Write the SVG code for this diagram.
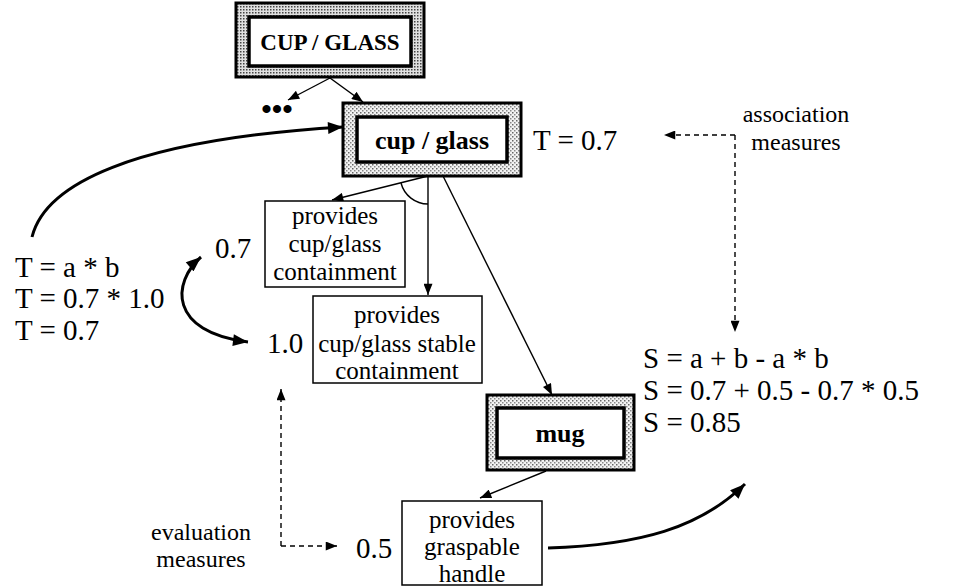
<svg xmlns="http://www.w3.org/2000/svg" width="957" height="587" viewBox="0 0 957 587">
  <style>
    text { font-family: "Liberation Serif", "DejaVu Serif", serif; fill: #000; }
    .node { font-size: 25px; text-anchor: middle; }
    .cat { font-weight: bold; text-anchor: middle; }
    .eq { font-size: 29px; }
    .note { font-size: 24px; text-anchor: middle; }
    .box { fill: #fff; stroke: #000; stroke-width: 1.5; }
    .frame { stroke: #000; stroke-width: 3; }
    .inner { fill: #fff; stroke: #000; stroke-width: 3.5; }
    .thin { fill: none; stroke: #000; stroke-width: 1.4; }
    .thick { fill: none; stroke: #000; stroke-width: 3; }
    .dash { fill: none; stroke: #000; stroke-width: 1.4; stroke-dasharray: 5 4; }
  </style>
  <defs>
    <pattern id="dense" width="3" height="3" patternUnits="userSpaceOnUse">
      <rect width="3" height="3" fill="#e0e0e0"/>
      <rect width="1.5" height="1.5" fill="#444"/>
    </pattern>
    <pattern id="sparse" width="4" height="4" patternUnits="userSpaceOnUse">
      <rect width="4" height="4" fill="#f2f2f2"/>
      <rect width="1.5" height="1.5" fill="#666"/>
      <rect x="2" y="2" width="1.5" height="1.5" fill="#888"/>
    </pattern>
    <marker id="ah" viewBox="0 0 10 8" refX="10" refY="4" markerWidth="12" markerHeight="9" markerUnits="userSpaceOnUse" orient="auto-start-reverse">
      <path d="M0,0 L10,4 L0,8 Z" fill="#000"/>
    </marker>
    <marker id="ahb" viewBox="0 0 10 8" refX="10" refY="4" markerWidth="16" markerHeight="12" markerUnits="userSpaceOnUse" orient="auto-start-reverse">
      <path d="M0,0 L10,4 L0,8 Z" fill="#000"/>
    </marker>
  </defs>

  <!-- connectors -->
  <g id="connectors">
    <path class="thin" d="M330,78 L288,100" marker-end="url(#ah)"/>
    <path class="thin" d="M330,78 L363,102" marker-end="url(#ah)"/>
    <path class="thin" d="M428,176 L332,200" marker-end="url(#ah)"/>
    <path class="thin" d="M428,176 L428,295" marker-end="url(#ah)"/>
    <path class="thin" d="M401,183 A28,28 0 0 0 428,204"/>
    <path class="thin" d="M443,176 L552,395" marker-end="url(#ah)"/>
    <path class="thin" d="M546,471 L480,498" marker-end="url(#ah)"/>
    <path class="thick" d="M32,237 C45,185 130,140 343,127" marker-end="url(#ahb)"/>
    <path class="thick" d="M201,257 C172,282 168,332 248,342" marker-start="url(#ahb)" marker-end="url(#ahb)"/>
    <path class="thick" d="M548,548 C640,545 700,528 745,484" marker-end="url(#ahb)"/>
    <path class="dash" d="M735,135 L664,135" marker-end="url(#ah)"/>
    <path class="dash" d="M735,135 L735,332" marker-end="url(#ah)"/>
    <path class="dash" d="M281,546 L281,389" marker-end="url(#ah)"/>
    <path class="dash" d="M281,546 L337,546" marker-end="url(#ah)"/>
  </g>

  <!-- category nodes -->
  <g id="cup-glass-upper">
    <rect class="frame" x="236" y="3" width="188" height="74" fill="url(#dense)"/>
    <rect class="inner" x="249" y="17" width="162" height="49"/>
    <text class="cat" x="330" y="50" font-size="23">CUP / GLASS</text>
  </g>
  <g id="ellipsis">
    <text x="277" y="119" font-size="30" font-weight="bold" text-anchor="middle">•••</text>
  </g>
  <g id="cup-glass">
    <rect class="frame" x="343" y="103" width="178" height="73" fill="url(#sparse)"/>
    <rect class="inner" x="357" y="117" width="150" height="45"/>
    <text class="cat" x="432" y="149" font-size="26">cup / glass</text>
  </g>
  <g id="mug">
    <rect class="frame" x="487" y="395" width="147" height="75" fill="url(#sparse)"/>
    <rect class="inner" x="497" y="408" width="127" height="50"/>
    <text class="cat" x="560" y="442" font-size="26">mug</text>
  </g>

  <!-- feature nodes -->
  <g id="containment">
    <rect class="box" x="265" y="201" width="140" height="86"/>
    <text class="node" x="335" y="224">provides</text>
    <text class="node" x="335" y="252">cup/glass</text>
    <text class="node" x="335" y="280">containment</text>
  </g>
  <g id="stable-containment">
    <rect class="box" x="313" y="296" width="169" height="87"/>
    <text class="node" x="397" y="323">provides</text>
    <text class="node" x="397" y="352">cup/glass stable</text>
    <text class="node" x="397" y="379">containment</text>
  </g>
  <g id="graspable-handle">
    <rect class="box" x="402" y="501" width="140" height="84"/>
    <text class="node" x="472" y="528">provides</text>
    <text class="node" x="472" y="555">graspable</text>
    <text class="node" x="472" y="582">handle</text>
  </g>

  <!-- measures and values -->
  <g id="values">
    <text class="eq" x="533" y="150">T = 0.7</text>
    <text class="eq" x="215" y="258">0.7</text>
    <text class="eq" x="267" y="353">1.0</text>
    <text class="eq" x="356" y="558">0.5</text>
  </g>
  <g id="t-formula">
    <text class="eq" x="15" y="277">T = a * b</text>
    <text class="eq" x="15" y="308">T = 0.7 * 1.0</text>
    <text class="eq" x="15" y="340">T = 0.7</text>
  </g>
  <g id="s-formula">
    <text class="eq" x="643" y="368">S = a + b - a * b</text>
    <text class="eq" x="643" y="400">S = 0.7 + 0.5 - 0.7 * 0.5</text>
    <text class="eq" x="643" y="432">S = 0.85</text>
  </g>
  <g id="association-measures">
    <text class="note" x="796" y="122">association</text>
    <text class="note" x="796" y="150">measures</text>
  </g>
  <g id="evaluation-measures">
    <text class="note" x="201" y="540">evaluation</text>
    <text class="note" x="201" y="567">measures</text>
  </g>
</svg>
